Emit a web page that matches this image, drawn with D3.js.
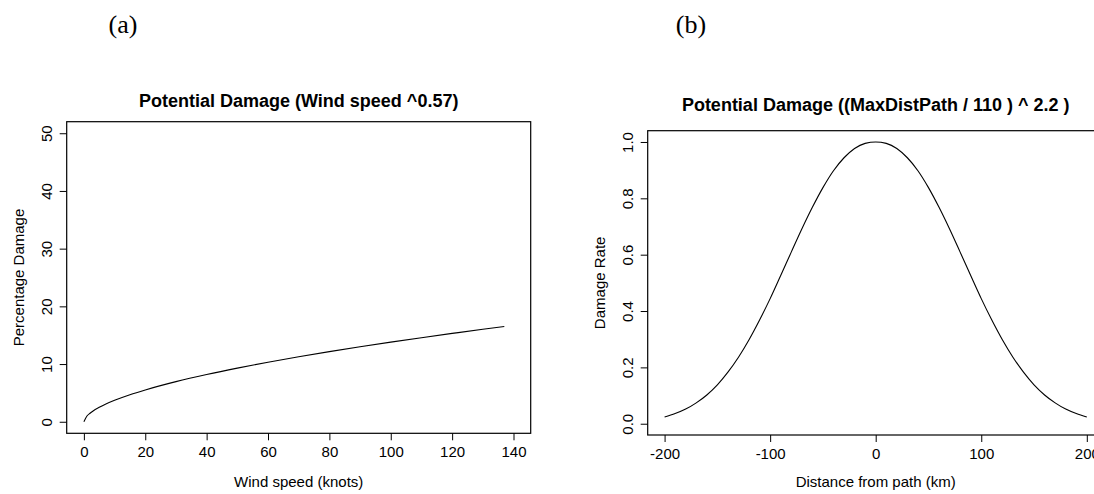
<!DOCTYPE html>
<html>
<head>
<meta charset="utf-8">
<script src="https://cdn.jsdelivr.net/npm/d3@7"></script>
<style>
  body { margin: 0; background: white; }
  svg { display: block; overflow: hidden; }
  text { font-family: "Liberation Sans", Arial, sans-serif; fill: black; }
</style>
</head>
<body>
<svg id="chart" width="1094" height="494"></svg>
<script>
// panel (a): wind speed vs percentage damage
const windSpeed = [0, 1, 2, 3, 5, 7, 10, 15, 20, 30, 40, 50, 60, 70, 80, 90, 100, 110, 120, 130, 137];
const pctDamage = [0, 1.0, 1.48, 1.87, 2.5, 3.03, 3.71, 4.68, 5.51, 6.95, 8.19, 9.3, 10.32, 11.27, 12.16, 13.0, 13.8, 14.57, 15.31, 16.03, 16.5];
const windTicks = [0, 20, 40, 60, 80, 100, 120, 140];
const pctTicks = [0, 10, 20, 30, 40, 50];

// panel (b): distance from path vs damage rate
const distance = [-200, -190, -180, -170, -160, -150, -140, -130, -120, -110, -100, -90, -80, -70, -60, -50, -40, -30, -20, -10,
  0, 10, 20, 30, 40, 50, 60, 70, 80, 90, 100, 110, 120, 130, 140, 150, 160, 170, 180, 190, 200];
const damageRate = [0.024, 0.036, 0.052, 0.074, 0.102, 0.138, 0.183, 0.236, 0.298, 0.368, 0.444, 0.526, 0.609, 0.691, 0.768, 0.838, 0.898, 0.944, 0.977, 0.995,
  1.0, 0.995, 0.977, 0.944, 0.898, 0.838, 0.768, 0.691, 0.609, 0.526, 0.444, 0.368, 0.298, 0.236, 0.183, 0.138, 0.102, 0.074, 0.052, 0.036, 0.024];
const distTicks = [-200, -100, 0, 100, 200];
const rateTicks = [0, 0.2, 0.4, 0.6, 0.8, 1.0];

const svg = d3.select("#chart");

const panels = [
  {
    tag: "(a)", tagX: 123,
    title: "Potential Damage (Wind speed ^0.57)", titleY: 107,
    xLabel: "Wind speed (knots)", yLabel: "Percentage Damage",
    xs: windSpeed, ys: pctDamage, xTicks: windTicks, yTicks: pctTicks, yFmt: (d) => String(d),
    x: d3.scaleLinear([-5.6, 145.6], [66.7, 530.7]),
    y: d3.scaleLinear([-2, 52], [433.3, 121.7]),
    yLabelX: 24
  },
  {
    tag: "(b)", tagX: 691,
    title: "Potential Damage ((MaxDistPath / 110 ) ^ 2.2 )", titleY: 111,
    xLabel: "Distance from path (km)", yLabel: "Damage Rate",
    xs: distance, ys: damageRate, xTicks: distTicks, yTicks: rateTicks, yFmt: d3.format(".1f"),
    x: d3.scaleLinear([-216, 216], [647.7, 1103.7]),
    y: d3.scaleLinear([-0.04, 1.04], [435, 130.7]),
    yLabelX: 605
  }
];

panels.forEach((p) => {
  const [x0, x1] = p.x.range();
  const [y0, y1] = p.y.range();
  const midX = (x0 + x1) / 2;

  // panel tag
  svg.append("text")
    .attr("x", p.tagX).attr("y", 33)
    .attr("text-anchor", "middle")
    .style("font-family", "'Liberation Serif', 'Times New Roman', serif")
    .style("font-size", "26px")
    .text(p.tag);

  // title
  svg.append("text")
    .attr("x", midX)
    .attr("y", p.titleY)
    .attr("text-anchor", "middle")
    .style("font-size", "18px")
    .style("font-weight", "bold")
    .text(p.title);

  // box
  svg.append("rect")
    .attr("x", x0).attr("y", y1)
    .attr("width", x1 - x0).attr("height", y0 - y1)
    .attr("fill", "none")
    .attr("stroke", "black")
    .attr("stroke-width", 1.2);

  // x axis (plain hyphen for negatives, like the original)
  const gx = svg.append("g")
    .attr("transform", `translate(0, ${y0})`)
    .call(d3.axisBottom(p.x).tickValues(p.xTicks).tickSize(7).tickPadding(6).tickFormat((d) => String(d)));
  gx.select(".domain").remove();
  gx.selectAll("line").attr("stroke", "black");
  gx.selectAll("text").style("font-size", "15px").attr("font-family", null);

  // y axis, labels rotated like base R
  const gy = svg.append("g")
    .attr("transform", `translate(${x0}, 0)`)
    .call(d3.axisLeft(p.y).tickValues(p.yTicks).tickSize(7).tickFormat(p.yFmt));
  gy.select(".domain").remove();
  gy.selectAll("line").attr("stroke", "black");
  gy.selectAll("text")
    .attr("x", null).attr("dy", null)
    .attr("text-anchor", "middle")
    .attr("transform", "translate(-15, 0) rotate(-90)")
    .attr("font-family", null)
    .style("font-size", "15px");

  // axis titles
  svg.append("text")
    .attr("x", midX)
    .attr("y", 487)
    .attr("text-anchor", "middle")
    .style("font-size", "15px")
    .text(p.xLabel);

  svg.append("text")
    .attr("transform", `translate(${p.yLabelX}, ${(y0 + y1) / 2}) rotate(-90)`)
    .attr("text-anchor", "middle")
    .style("font-size", "15px")
    .text(p.yLabel);

  // curve
  const line = d3.line()
    .x((d, i) => p.x(p.xs[i]))
    .y((d) => p.y(d))
    .curve(d3.curveMonotoneX);

  svg.append("path")
    .datum(p.ys)
    .attr("d", line)
    .attr("fill", "none")
    .attr("stroke", "black")
    .attr("stroke-width", 1.1);
});
</script>
</body>
</html>
